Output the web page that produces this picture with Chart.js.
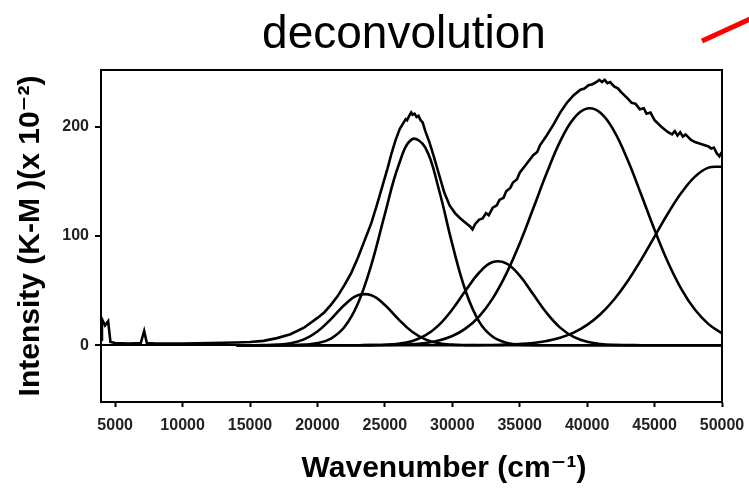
<!DOCTYPE html>
<html lang="en">
<head>
  <meta charset="UTF-8" />
  <title>deconvolution</title>
  <script src="https://cdn.jsdelivr.net/npm/chart.js"></script>
  <style>
    html, body {
      margin: 0;
      padding: 0;
      background: #ffffff;
    }
    #wrap {
      position: relative;
      width: 749px;
      height: 491px;
    }
  </style>
</head>
<body>
  <div id="wrap">
    <canvas id="spectrumChart" width="749" height="491"></canvas>
  </div>

  <script>
    const FONT = '"Liberation Sans", Arial, "DejaVu Sans", sans-serif';

    // axis ticks
    const xTicks = [5000, 10000, 15000, 20000, 25000, 30000, 35000, 40000, 45000, 50000];
    const yTicks = [0, 100, 200];

    const measuredX = [
      3960, 4020, 4250, 4480, 4650, 5000, 6000, 6900, 7150, 7350, 8000, 10000, 12000, 14000,
      15000, 16000, 17000, 18000, 19000, 20000, 20500, 21000, 21500, 22000, 22500, 23000,
      23500, 24000, 24400, 24800, 25200, 25500, 25800, 26100, 26400, 26550, 26650, 26800,
      26950, 27050, 27200, 27350, 27500, 27650, 27800, 28000, 28300, 28600, 29000, 29400,
      29800, 30200, 30600, 31000, 31300, 31500, 31700, 32000, 32250, 32500, 32700, 33000,
      33300, 33500, 33800, 34000, 34300, 34500, 34800, 35000, 35500, 36000, 36300, 36500,
      37000, 37500, 38000, 38500, 39000, 39500, 39800, 40100, 40400, 40700, 40900, 41100,
      41300, 41500, 41700, 42000, 42300, 42500, 43000, 43300, 43600, 43900, 44200, 44400,
      44700, 45000, 45500, 46000, 46300, 46500, 46700, 46900, 47100, 47300, 47700, 48000,
      48500, 49000, 49200, 49400, 49600, 49800, 50000
    ];
    const measuredY = [
      5, 24, 18, 22, 3, 2, 1.5, 2, 13, 2, 1.5, 1.5, 2, 2.5,
      3, 4, 6.5, 10, 16, 25, 30, 37, 45, 55, 66, 80,
      96, 112, 128, 145, 162, 176, 188, 198, 204, 207, 206, 210,
      213, 211, 212, 209, 210, 206, 204, 196, 186, 174, 157, 140,
      128, 121, 116, 112, 109, 106, 111, 115, 116, 121, 119, 126,
      128, 133, 135, 141, 144, 149, 152, 158, 166, 174, 177, 183,
      192, 202, 213, 222, 229, 234, 235, 238, 239, 241, 243, 241,
      243, 240, 241, 237, 235, 232, 226, 222, 221, 216, 217, 212,
      213, 206, 200, 195, 193, 196, 192, 195, 191, 193, 188, 186,
      184, 182, 180, 181, 176, 173, 177
    ];

    // fitted gaussian bands, sampled every 1000 cm-1
    const bandX = [
      14000, 15000, 16000, 17000, 18000, 19000, 20000, 21000, 22000, 23000, 24000, 25000,
      26000, 27000, 28000, 29000, 30000, 31000, 32000, 33000, 34000, 35000, 36000, 37000,
      38000, 39000, 40000, 41000, 42000, 43000, 44000, 45000, 46000, 47000, 48000, 49000, 50000
    ];
    const band23500 = [
      0, 0, 0.1, 0.5, 1.8, 5.3, 12.5, 23.9, 36.8, 45.7, 45.7, 36.8,
      23.9, 12.5, 5.3, 1.8, 0.5, 0.1, 0, 0, 0, 0, 0, 0,
      0, 0, 0, 0, 0, 0, 0, 0, 0, 0, 0, 0, 0
    ];
    const band27300 = [
      0, 0, 0, 0, 0.1, 0.5, 1.9, 6.1, 16.6, 38.2, 73.8, 120.1,
      164.1, 188.5, 181.0, 142.8, 92.5, 49.2, 21.4, 7.7, 2.3, 0.5, 0.1, 0,
      0, 0, 0, 0, 0, 0, 0, 0, 0, 0, 0, 0, 0
    ];
    const band33400 = [
      0, 0, 0, 0, 0, 0, 0, 0, 0, 0, 0.1, 0.4,
      1.3, 3.7, 8.9, 18.4, 32.7, 50.3, 66.6, 76.1, 75.0, 63.7, 46.7, 29.5,
      16.1, 7.6, 3.1, 1.1, 0.3, 0.1, 0, 0, 0, 0, 0, 0, 0
    ];
    const band40200 = [
      0, 0, 0, 0, 0, 0, 0, 0, 0, 0, 0.1, 0.2,
      0.4, 0.9, 2.1, 4.3, 8.4, 15.4, 26.5, 42.9, 65.3, 93.2, 125.1, 157.6,
      186.6, 207.5, 216.7, 212.7, 196.1, 169.8, 138.2, 105.6, 75.8, 51.2, 32.4, 19.3, 10.8
    ];
    const band49600 = [
      0, 0, 0, 0, 0, 0, 0, 0, 0, 0, 0, 0,
      0, 0, 0, 0, 0, 0, 0.1, 0.2, 0.5, 1.1, 2.1, 3.9,
      6.8, 11.5, 18.6, 28.6, 41.9, 58.6, 78.2, 99.5, 120.8, 139.8, 154.4, 162.6, 163.4
    ];

    function pairs(xs, ys) {
      return xs.map((x, i) => ({ x: x, y: ys[i] }));
    }

    function bandSet(ys) {
      return {
        data: pairs(bandX, ys),
        borderColor: '#000000',
        borderWidth: 2.6,
        tension: 0.4,
        pointRadius: 0,
        fill: false
      };
    }

    // box round the plot, title, x axis title and the red stroke
    const decor = {
      id: 'decor',
      afterDraw(chart) {
        const { ctx, chartArea: a } = chart;
        ctx.save();
        ctx.strokeStyle = '#000000';
        ctx.lineWidth = 2;
        ctx.strokeRect(a.left, a.top, a.right - a.left, a.bottom - a.top);

        ctx.fillStyle = '#000000';
        ctx.textAlign = 'center';
        ctx.textBaseline = 'alphabetic';
        ctx.font = '46px ' + FONT;
        ctx.fillText('deconvolution', 404, 48);

        ctx.font = 'bold 30px ' + FONT;
        ctx.textBaseline = 'middle';
        ctx.fillText('Wavenumber (cm\u207B\u00B9)', 444, 469);

        ctx.strokeStyle = '#ff0000';
        ctx.lineWidth = 5;
        ctx.beginPath();
        ctx.moveTo(702, 41);
        ctx.lineTo(752, 18);
        ctx.stroke();
        ctx.restore();
      }
    };

    const tickFont = { family: FONT, size: 16, weight: 'bold' };

    new Chart(document.getElementById('spectrumChart'), {
      type: 'line',
      data: {
        datasets: [
          {
            data: pairs(measuredX, measuredY),
            borderColor: '#000000',
            borderWidth: 2.6,
            tension: 0,
            pointRadius: 0,
            fill: false
          },
          bandSet(band23500),
          bandSet(band27300),
          bandSet(band33400),
          bandSet(band40200),
          bandSet(band49600)
        ]
      },
      options: {
        responsive: false,
        animation: false,
        devicePixelRatio: 1,
        layout: { padding: { top: 70, right: 27, bottom: 49, left: 0 } },
        plugins: {
          legend: { display: false },
          tooltip: { enabled: false }
        },
        scales: {
          x: {
            type: 'linear',
            min: 3950,
            max: 50000,
            afterBuildTicks: s => { s.ticks = xTicks.map(v => ({ value: v })); },
            afterFit: s => {
              s.height = 40;
              s.paddingLeft = 0;
              s.paddingRight = 0;
            },
            grid: { drawOnChartArea: false, drawTicks: true, tickLength: 5, tickColor: '#000000', tickWidth: 2 },
            border: { color: '#000000', width: 2 },
            ticks: {
              color: '#222222',
              font: tickFont,
              padding: 9,
              maxRotation: 0,
              autoSkip: false,
              callback: v => String(v)
            }
          },
          y: {
            type: 'linear',
            min: -52,
            max: 252,
            afterBuildTicks: s => { s.ticks = yTicks.map(v => ({ value: v })); },
            afterFit: s => { s.width = 101; },
            grid: {
              color: c => (c.tick && c.tick.value === 0 ? '#000000' : 'rgba(0,0,0,0)'),
              lineWidth: 2,
              drawTicks: true,
              tickLength: 6,
              tickColor: '#000000',
              tickWidth: 2
            },
            border: { color: '#000000', width: 2 },
            ticks: {
              color: '#222222',
              font: tickFont,
              padding: 6,
              callback: v => String(v)
            },
            title: {
              display: true,
              text: 'Intensity (K-M )(x 10\u207B\u00B2)',
              color: '#000000',
              font: { family: FONT, size: 30, weight: 'bold' },
              padding: { top: 13, bottom: 0 }
            }
          }
        }
      },
      plugins: [decor]
    });
  </script>
</body>
</html>
